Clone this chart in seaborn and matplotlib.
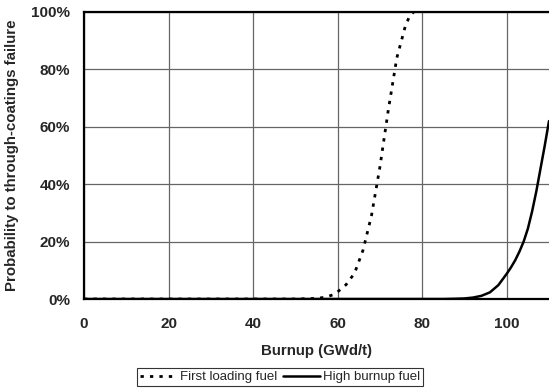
import matplotlib
matplotlib.use("Agg")
import matplotlib.pyplot as plt
import seaborn as sns
import pandas as pd
from matplotlib.ticker import PercentFormatter

# Data
first_x = [0, 50, 55, 57, 59, 60, 62, 64, 66, 68, 70, 72, 74, 76, 77, 78]
first_y = [0, 0, 0.002, 0.006, 0.015, 0.025, 0.05, 0.09, 0.17, 0.29, 0.46, 0.66, 0.84, 0.95, 0.985, 1.0]
high_x = [0, 80, 85, 88, 90, 92, 94, 96, 98, 100, 101, 102, 103, 104, 105, 106, 107, 108, 109, 110]
high_y = [0, 0, 0, 0.001, 0.002, 0.005, 0.011, 0.023, 0.048, 0.088, 0.11, 0.135, 0.165, 0.2, 0.245, 0.305, 0.375, 0.455, 0.535, 0.62]
series_names = ["First loading fuel", "High burnup fuel"]
x_ticks = [0, 20, 40, 60, 80, 100]
y_ticks = [0, 0.2, 0.4, 0.6, 0.8, 1.0]

df = pd.concat([
    pd.DataFrame({"x": first_x, "y": first_y, "s": series_names[0]}),
    pd.DataFrame({"x": high_x, "y": high_y, "s": series_names[1]}),
])

sns.set_theme(style="white")
plt.rcParams["font.family"] = ["Liberation Sans", "DejaVu Sans"]

fig = plt.figure(figsize=(5.49, 3.90), dpi=100)
ax = fig.add_axes([0.153, 0.2333, 0.847, 0.736])

sns.lineplot(data=df[df.s == series_names[0]], x="x", y="y", ax=ax, color="black",
             linewidth=2.0, linestyle=(0, (1.2, 2.2)), label=series_names[0], sort=True)
sns.lineplot(data=df[df.s == series_names[1]], x="x", y="y", ax=ax, color="black",
             linewidth=1.8, linestyle="-", label=series_names[1], sort=True)

ax.set_xlim(0, 110)
ax.set_ylim(0, 1.0)
ax.set_xticks(x_ticks)
ax.set_yticks(y_ticks)
ax.yaxis.set_major_formatter(PercentFormatter(1.0, decimals=0))
ax.grid(True, color="#666666", linewidth=0.9)
ax.set_axisbelow(True)
for side in ["left", "bottom", "top"]:
    ax.spines[side].set_visible(True)
    ax.spines[side].set_color("black")
    ax.spines[side].set_linewidth(1.6)
ax.spines["right"].set_visible(False)

ax.tick_params(axis="x", length=0, pad=13, labelsize=11)
ax.tick_params(axis="y", length=0, pad=10, labelsize=11)
for lab in ax.get_xticklabels() + ax.get_yticklabels():
    lab.set_fontweight("bold")

ax.set_xlabel("Burnup (GWd/t)", fontsize=10.8, fontweight="bold", labelpad=9)
ax.set_ylabel("Probability to through-coatings failure", fontsize=10.8, fontweight="bold")
ax.yaxis.set_label_coords(-(84 - 19) / (0.847 * 549), 0.5)

leg = ax.legend(loc="center", bbox_to_anchor=(0.5 * (143 + 417) / 549, 1 - 377 / 390),
                bbox_transform=fig.transFigure, ncol=2, frameon=True, fancybox=False,
                fontsize=9.5, handlelength=2.8, handletextpad=0.2, columnspacing=0.5,
                borderpad=0.2, borderaxespad=0)
leg.get_frame().set_edgecolor("black")
leg.get_frame().set_linewidth(0.8)

fig.savefig("out.png", dpi=100)
